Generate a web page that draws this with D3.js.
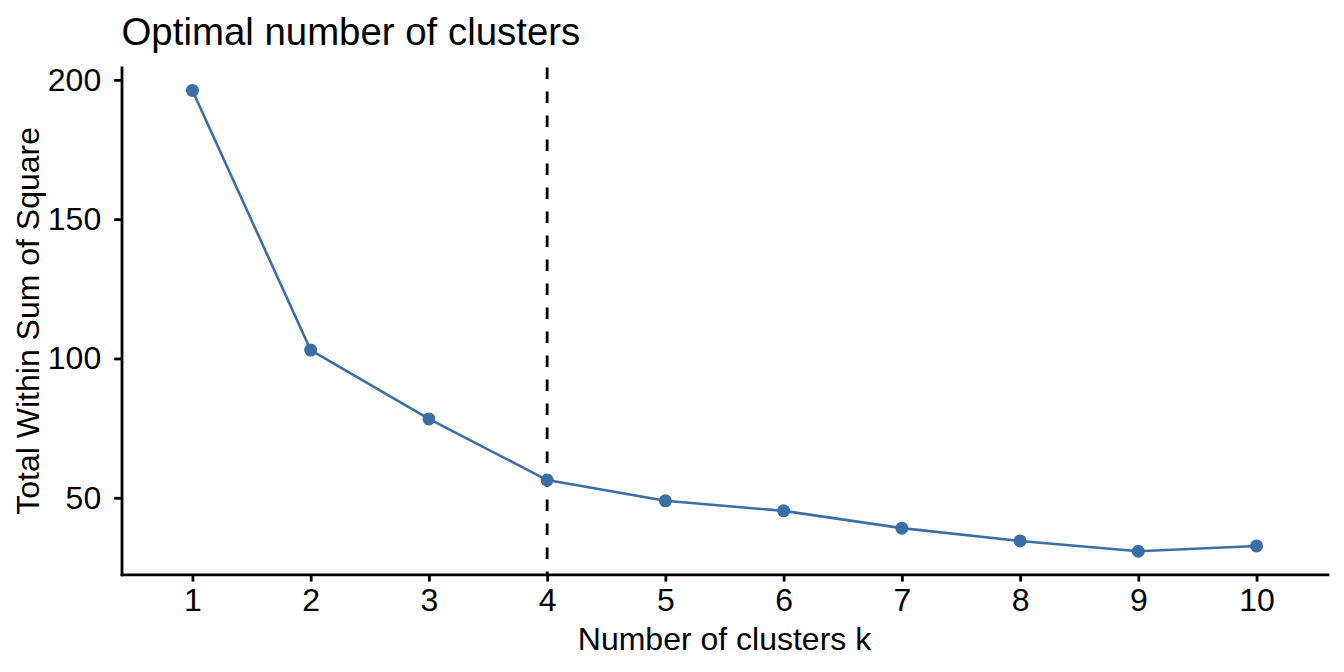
<html>
<head>
  <script src="https://d3js.org/d3.v7.min.js"></script>
  <style>
    body { margin: 0; background: #fff; }
    svg { display: block; }
    text { font-family: "Liberation Sans", Arial, Helvetica, sans-serif; fill: #000; }
  </style>
</head>
<body>
<script>
  // data
  var clusters = [1, 2, 3, 4, 5, 6, 7, 8, 9, 10];
  var wss = [196.2, 103.0, 78.3, 56.35, 48.9, 45.3, 39.1, 34.5, 30.8, 32.7];
  var yTicks = [50, 100, 150, 200];
  var optimalK = 4;

  var width = 1344, height = 672;
  var panelL = 121.5, panelR = 1327.5, panelT = 67.4, panelB = 574.3;
  var lineColor = "#3A6EA5";

  var svg = d3.select("body").append("svg")
      .attr("width", width)
      .attr("height", height);

  svg.append("rect").attr("width", width).attr("height", height).attr("fill", "#fff");

  // scales (ggplot style 5% expansion on y, discrete 0.6 on x)
  var ext = d3.extent(wss);
  var pad = (ext[1] - ext[0]) * 0.05;
  var yScale = d3.scaleLinear()
      .domain([ext[0] - pad, ext[1] + pad])
      .range([panelB, panelT]);
  var xScale = d3.scalePoint()
      .domain(clusters)
      .range([panelL, panelR])
      .padding(0.6);

  var data = clusters.map(function(k, i) { return { k: k, v: wss[i] }; });

  // vertical dashed line at optimal k
  svg.append("line")
     .attr("x1", xScale(optimalK)).attr("x2", xScale(optimalK))
     .attr("y1", panelT).attr("y2", panelB)
     .attr("stroke", "#000")
     .attr("stroke-width", 2.8)
     .attr("stroke-dasharray", "11.5,12.5");

  // line + points
  var line = d3.line()
      .x(function(d) { return xScale(d.k); })
      .y(function(d) { return yScale(d.v); });

  svg.append("path")
     .datum(data)
     .attr("d", line)
     .attr("fill", "none")
     .attr("stroke", lineColor)
     .attr("stroke-width", 2.6);

  svg.selectAll("circle.pt")
     .data(data)
     .enter()
     .append("circle")
     .attr("class", "pt")
     .attr("cx", function(d) { return xScale(d.k); })
     .attr("cy", function(d) { return yScale(d.v); })
     .attr("r", 6.5)
     .attr("fill", lineColor);

  // axes
  var yAxis = d3.axisLeft(yScale)
      .tickValues(yTicks)
      .tickSize(7.3)
      .tickSizeOuter(0)
      .tickPadding(13);
  var xAxis = d3.axisBottom(xScale)
      .tickSize(7.3)
      .tickSizeOuter(0)
      .tickPadding(7);

  var gy = svg.append("g")
     .attr("transform", "translate(" + panelL + ",0)")
     .call(yAxis);
  var gx = svg.append("g")
     .attr("transform", "translate(0," + panelB + ")")
     .call(xAxis);

  [gx, gy].forEach(function(g) {
    g.attr("font-size", null).attr("font-family", null);
    g.select(".domain").attr("stroke", "#000").attr("stroke-width", 2.8).attr("stroke-linecap", "square");
    g.selectAll(".tick line").attr("stroke", "#000").attr("stroke-width", 2.8);
    g.selectAll(".tick text")
     .style("font-size", "32px")
     .attr("fill", "#000");
  });

  // titles
  svg.append("text")
     .attr("x", panelL)
     .attr("y", 45)
     .style("font-size", "38.4px")
     .text("Optimal number of clusters");

  svg.append("text")
     .attr("x", (panelL + panelR) / 2)
     .attr("y", 650)
     .attr("text-anchor", "middle")
     .style("font-size", "32px")
     .text("Number of clusters k");

  svg.append("text")
     .attr("transform", "translate(39," + ((panelT + panelB) / 2) + ") rotate(-90)")
     .attr("text-anchor", "middle")
     .style("font-size", "32px")
     .text("Total Within Sum of Square");
</script>
</body>
</html>
